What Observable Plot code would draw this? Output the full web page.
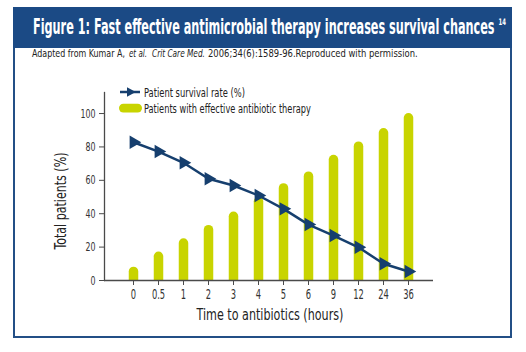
<!DOCTYPE html>
<html>
<head>
<meta charset="utf-8">
<script src="https://cdn.jsdelivr.net/npm/d3@7"></script>
<script src="https://cdn.jsdelivr.net/npm/@observablehq/plot@0.6"></script>
<style>
  html, body { margin: 0; padding: 0; background: #fff; }
  #wrap { position: relative; width: 526px; height: 352px; overflow: hidden; background: #fff; }
  #box { position: absolute; left: 13px; top: 7px; width: 499px; height: 331px; box-sizing: border-box; border: 2.5px solid #234f86; }
  #band { position: absolute; left: 13px; top: 7px; width: 499px; height: 41px; background: #1b4a85; }
  #chart, #overlay { position: absolute; left: 0; top: 0; }
  #overlay { pointer-events: none; }
  .cond { font-family: "Liberation Sans Narrow", "DejaVu Sans Condensed", "Roboto Condensed", "Liberation Sans", sans-serif; font-stretch: condensed; }
</style>
</head>
<body>
<div id="wrap">
  <div id="box"></div>
  <div id="band"></div>
  <div id="chart"></div>
  <svg id="overlay" width="526" height="352" class="cond"></svg>
</div>
<script>
// ---- data ----
const hours = ["0", "0.5", "1", "2", "3", "4", "5", "6", "9", "12", "24", "36"];
const survivalRate = [82.8, 77.2, 70.5, 60.9, 56.9, 50.9, 42.9, 33.5, 26.9, 19.9, 10.0, 5.4];
const effectiveTherapy = [8, 17, 25, 33, 41, 50, 58, 65, 75, 83, 91, 100];
const yTicks = [0, 20, 40, 60, 80, 100];

const titleText = "Figure 1: Fast effective antimicrobial therapy increases survival chances";
const titleRef = "14";
const subtitleParts = ["Adapted from Kumar A,", "et al.", "Crit Care Med.", "2006;34(6):1589-96.Reproduced with permission."];
const legendLine = "Patient survival rate (%)";
const legendBar = "Patients with effective antibiotic therapy";
const xLabel = "Time to antibiotics (hours)";
const yLabel = "Total patients (%)";

const navy = "#163f6e";
const lime = "#c8d400";
const axisGray = "#4a4a4a";
const fontStack = '"Liberation Sans Narrow", "DejaVu Sans Condensed", "Roboto Condensed", "Liberation Sans", sans-serif';

const rows = hours.map((h, i) => ({hour: h, survival: survivalRate[i], effective: effectiveTherapy[i]}));

const barWidth = 9.5;
const chart = Plot.plot({
  width: 526,
  height: 352,
  marginLeft: 104,
  marginRight: 93,
  marginTop: 92,
  marginBottom: 72,
  style: {fontFamily: fontStack, color: "#333", background: "transparent", overflow: "visible"},
  x: {type: "point", domain: hours, range: [131, 409], padding: 0},
  y: {domain: [0, 112.6]},
  marks: [
    Plot.ruleX(rows, {x: "hour", y1: 0, y2: "effective", stroke: lime, strokeWidth: barWidth, strokeLinecap: "round", dy: barWidth / 2, clip: true}),
    Plot.frame({anchor: "left", stroke: axisGray, strokeWidth: 1.3}),
    Plot.ruleY([0], {stroke: axisGray, strokeWidth: 1.5}),
    Plot.axisY({ticks: yTicks, tickSize: 5, tickPadding: 4, label: null, fontSize: 12.5, stroke: axisGray}),
    Plot.axisX({tickSize: 5, tickPadding: 3, label: null, fontSize: 14.5, stroke: axisGray}),
    Plot.line(rows, {x: "hour", y: "survival", stroke: navy, strokeWidth: 2.5}),
    Plot.dot(rows, {x: "hour", y: "survival", symbol: "triangle", rotate: 90, r: 5, fill: navy, stroke: "none"})
  ]
});
document.getElementById("chart").appendChild(chart);

// condense tick labels horizontally (the reference uses a condensed face)
function condense(selector, s) {
  d3.select(chart).selectAll(selector).each(function() {
    const t = this.getAttribute("transform") || "";
    this.setAttribute("transform", t + ` scale(${s},1)`);
  });
}
condense('g[aria-label="x-axis tick label"] text', 0.64);
condense('g[aria-label="y-axis tick label"] text', 0.7);

// ---- overlay: title, subtitle, axis titles, legend ----
const ov = d3.select("#overlay");
function fit(sel, x, y, w, extra = "") {
  const n = sel.node().getComputedTextLength();
  sel.attr("transform", `translate(${x},${y}) ${extra} scale(${w / n},1)`);
  return sel;
}
function addText(str, x, y, w, size, opts = {}) {
  const t = ov.append("text").attr("font-size", size).attr("fill", opts.fill || "#222")
    .attr("text-anchor", opts.anchor || "start").text(str);
  if (opts.bold) t.attr("font-weight", "bold");
  if (opts.italic) t.attr("font-style", "italic");
  return fit(t, x, y, w, opts.extra || "");
}

addText(titleText, 33, 34, 462, 20.5, {fill: "#fff", bold: true});
addText(titleRef, 498.5, 25, 7.5, 9, {fill: "#fff", bold: true});

addText(subtitleParts[0], 32, 57, 93, 11);
addText(subtitleParts[1], 129, 57, 18, 11, {italic: true});
addText(subtitleParts[2], 152, 57, 53, 11, {italic: true});
addText(subtitleParts[3], 208, 57, 210, 11);

// legend
ov.append("line").attr("x1", 120).attr("x2", 140).attr("y1", 92).attr("y2", 92).attr("stroke", navy).attr("stroke-width", 2.5);
ov.append("path").attr("d", "M127,87.2L135.8,92L127,96.8Z").attr("fill", navy);
ov.append("rect").attr("x", 119).attr("y", 103.8).attr("width", 23).attr("height", 8.6).attr("rx", 4.3).attr("fill", lime);
addText(legendLine, 144, 96.5, 101, 13);
addText(legendBar, 144, 112.5, 167, 13);

// axis titles
addText(xLabel, 270, 320, 147, 16.5, {anchor: "middle"});
addText(yLabel, 66, 201, 97, 16.5, {anchor: "middle", extra: "rotate(-90)"});
</script>
</body>
</html>
